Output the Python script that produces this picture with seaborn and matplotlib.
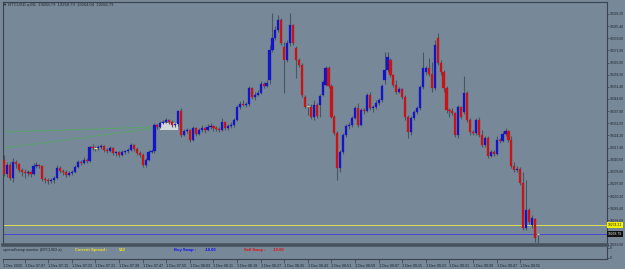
import matplotlib
matplotlib.use("Agg")
import matplotlib.pyplot as plt
import seaborn as sns
import pandas as pd
import numpy as np
from matplotlib.patches import Rectangle
from matplotlib.transforms import blended_transform_factory

# ---------------- data ----------------
symbol = "BTCUSD.a,M1"
title_ohlc = ["19268.79", "19268.79", "19264.04", "19268.79"]

opens = [19310.4, 19302.6, 19307.6, 19300.3, 19309.3, 19308.2, 19304.8, 19303.7, 19303.1, 19303.7,
         19302.6, 19307.0, 19307.6, 19307.0, 19299.8, 19299.2, 19298.6, 19299.2, 19300.3, 19305.9,
         19304.2, 19303.7, 19302.0, 19303.1, 19303.7, 19306.5, 19309.3, 19308.7, 19310.4, 19309.8,
         19317.7, 19317.1, 19317.1, 19317.7, 19318.2, 19316.0, 19315.4, 19317.1, 19314.3, 19314.9,
         19313.2, 19314.9, 19315.4, 19316.0, 19318.8, 19316.6, 19314.3, 19313.2, 19307.6, 19310.4,
         19314.9, 19315.4, 19330.0, 19328.9, 19331.1, 19331.7, 19332.8, 19331.7, 19330.0, 19330.6,
         19337.8, 19324.4, 19326.6, 19327.2, 19321.6, 19328.3, 19324.9, 19327.2, 19328.3, 19327.2,
         19328.9, 19329.4, 19328.3, 19327.8, 19327.2, 19331.7, 19328.3, 19329.4, 19330.0, 19332.8,
         19340.1, 19341.8, 19341.2, 19341.8, 19350.7, 19345.7, 19346.8, 19347.9, 19353.0, 19351.8,
         19355.2, 19372.0, 19378.7, 19383.2, 19388.8, 19373.7, 19366.4, 19375.9, 19386.0, 19373.1,
         19366.4, 19363.6, 19345.7, 19340.6, 19340.1, 19334.5, 19341.2, 19341.2, 19346.8, 19352.4,
         19361.9, 19351.8, 19334.5, 19325.5, 19305.9, 19314.9, 19324.4, 19329.4, 19330.0, 19333.9,
         19339.5, 19330.0, 19338.4, 19337.8, 19346.8, 19339.5, 19340.1, 19342.3, 19344.0, 19355.2,
         19360.8, 19366.4, 19358.0, 19352.4, 19348.5, 19350.2, 19345.7, 19334.5, 19326.1, 19333.9,
         19337.3, 19339.5, 19351.3, 19359.7, 19361.9, 19358.6, 19350.7, 19378.7, 19364.7, 19359.7,
         19350.7, 19338.4, 19337.8, 19336.7, 19324.4, 19340.1, 19337.3, 19347.9, 19332.8, 19326.1,
         19325.5, 19332.8, 19324.4, 19318.8, 19322.7, 19312.6, 19314.9, 19313.8, 19321.6, 19321.0,
         19324.9, 19326.6, 19321.6, 19307.0, 19304.8, 19305.4, 19297.5, 19272.3, 19282.4, 19274.0,
         19277.4, 19268.79]

highs = [19313.2, 19309.3, 19309.3, 19311.5, 19310.4, 19308.7, 19305.9, 19305.4, 19304.8, 19304.2,
         19308.7, 19309.3, 19308.2, 19307.6, 19300.9, 19300.3, 19300.3, 19301.4, 19307.6, 19307.0,
         19305.4, 19304.8, 19304.2, 19304.8, 19307.6, 19310.4, 19310.4, 19312.1, 19311.5, 19318.2,
         19319.4, 19318.2, 19318.8, 19319.4, 19318.8, 19317.1, 19318.2, 19317.7, 19315.4, 19315.4,
         19316.0, 19316.0, 19317.1, 19319.9, 19319.4, 19317.7, 19315.4, 19314.3, 19311.5, 19316.0,
         19316.6, 19331.1, 19330.6, 19332.2, 19332.8, 19333.9, 19333.4, 19332.8, 19331.1, 19338.4,
         19339.5, 19327.8, 19328.3, 19327.8, 19329.4, 19328.9, 19328.3, 19330.0, 19328.9, 19330.6,
         19331.1, 19330.0, 19329.4, 19328.9, 19333.9, 19332.2, 19330.6, 19331.7, 19333.9, 19341.2,
         19343.4, 19344.0, 19342.9, 19351.8, 19351.3, 19348.5, 19349.6, 19354.6, 19354.1, 19355.2,
         19374.8, 19392.7, 19385.4, 19391.6, 19389.9, 19376.5, 19377.6, 19392.7, 19386.6, 19374.2,
         19367.5, 19364.7, 19346.8, 19341.8, 19341.8, 19344.0, 19342.3, 19347.4, 19355.2, 19363.0,
         19363.0, 19353.0, 19335.6, 19326.6, 19316.0, 19325.5, 19330.6, 19331.7, 19335.0, 19340.6,
         19342.3, 19339.5, 19339.5, 19347.9, 19348.5, 19341.2, 19344.0, 19345.1, 19353.0, 19370.9,
         19370.9, 19367.5, 19358.6, 19355.2, 19351.3, 19350.7, 19346.8, 19335.6, 19335.0, 19338.4,
         19340.6, 19352.4, 19370.9, 19363.0, 19367.5, 19365.3, 19377.6, 19381.5, 19366.4, 19360.8,
         19351.8, 19339.5, 19339.5, 19337.3, 19341.2, 19340.6, 19357.4, 19349.0, 19333.9, 19327.2,
         19333.9, 19334.5, 19327.2, 19323.8, 19323.8, 19316.0, 19316.0, 19323.8, 19322.7, 19326.6,
         19328.3, 19327.2, 19323.8, 19309.3, 19307.0, 19306.5, 19303.7, 19299.2, 19283.5, 19279.6,
         19277.9, 19268.79]

lows = [19301.4, 19300.9, 19299.2, 19298.1, 19305.9, 19303.7, 19301.4, 19300.3, 19301.4, 19300.9,
        19302.0, 19305.9, 19305.9, 19298.6, 19297.5, 19297.0, 19297.5, 19297.5, 19299.8, 19303.1,
        19302.0, 19300.9, 19301.4, 19302.0, 19303.1, 19305.9, 19307.6, 19308.2, 19308.7, 19309.3,
        19316.0, 19315.4, 19316.0, 19316.6, 19314.9, 19314.3, 19314.9, 19313.2, 19312.6, 19312.1,
        19312.6, 19313.8, 19314.3, 19315.4, 19315.4, 19313.2, 19312.1, 19306.5, 19306.5, 19309.8,
        19314.3, 19314.3, 19327.8, 19328.3, 19330.6, 19331.1, 19330.6, 19328.9, 19328.9, 19329.4,
        19323.3, 19323.8, 19325.5, 19320.5, 19321.0, 19323.8, 19324.4, 19326.1, 19325.5, 19326.6,
        19327.8, 19326.6, 19326.6, 19326.1, 19326.6, 19327.2, 19327.2, 19328.3, 19328.9, 19332.2,
        19339.0, 19340.6, 19340.1, 19340.6, 19344.6, 19344.0, 19346.2, 19347.4, 19350.7, 19351.3,
        19353.0, 19370.9, 19377.6, 19382.1, 19374.8, 19347.9, 19365.3, 19374.2, 19374.8, 19356.3,
        19362.5, 19345.7, 19339.5, 19335.6, 19333.4, 19332.8, 19333.9, 19334.5, 19346.2, 19351.8,
        19350.7, 19333.9, 19324.4, 19299.2, 19303.7, 19313.8, 19323.3, 19327.8, 19328.9, 19333.4,
        19328.9, 19329.4, 19336.2, 19337.3, 19338.4, 19337.3, 19339.0, 19341.2, 19342.9, 19353.0,
        19359.7, 19356.9, 19351.3, 19347.4, 19347.9, 19344.6, 19332.8, 19322.7, 19324.4, 19332.8,
        19336.2, 19338.4, 19350.2, 19358.0, 19357.4, 19348.5, 19349.6, 19363.6, 19358.0, 19348.5,
        19336.7, 19334.5, 19335.6, 19323.3, 19322.7, 19333.4, 19336.2, 19331.7, 19324.4, 19324.4,
        19324.4, 19323.3, 19317.7, 19317.7, 19311.5, 19312.1, 19312.6, 19313.2, 19319.9, 19320.5,
        19323.8, 19320.5, 19305.9, 19303.7, 19303.7, 19296.4, 19271.2, 19271.2, 19274.6, 19272.3,
        19264.5, 19264.04]

closes = [19302.6, 19307.6, 19300.3, 19309.3, 19308.2, 19304.8, 19303.7, 19303.1, 19303.7, 19302.6,
          19307.0, 19307.6, 19307.0, 19299.8, 19299.2, 19298.6, 19299.2, 19300.3, 19305.9, 19304.2,
          19303.7, 19302.0, 19303.1, 19303.7, 19306.5, 19309.3, 19308.7, 19310.4, 19309.8, 19317.7,
          19317.1, 19317.1, 19317.7, 19318.2, 19316.0, 19315.4, 19317.1, 19314.3, 19314.9, 19313.2,
          19314.9, 19315.4, 19316.0, 19318.8, 19316.6, 19314.3, 19313.2, 19307.6, 19310.4, 19314.9,
          19315.4, 19330.0, 19328.9, 19331.1, 19331.7, 19332.8, 19331.7, 19330.0, 19330.6, 19337.8,
          19324.4, 19326.6, 19327.2, 19321.6, 19328.3, 19324.9, 19327.2, 19328.3, 19327.2, 19328.9,
          19329.4, 19328.3, 19327.8, 19327.2, 19331.7, 19328.3, 19329.4, 19330.0, 19332.8, 19340.1,
          19341.8, 19341.2, 19341.8, 19350.7, 19345.7, 19346.8, 19347.9, 19353.0, 19351.8, 19353.5,
          19372.0, 19378.7, 19383.2, 19388.8, 19375.9, 19366.4, 19375.9, 19386.0, 19375.9, 19366.4,
          19363.6, 19346.8, 19340.1, 19340.6, 19334.5, 19341.2, 19335.0, 19346.2, 19354.1, 19361.9,
          19351.8, 19334.5, 19325.5, 19305.9, 19314.9, 19324.4, 19329.4, 19330.0, 19333.9, 19339.5,
          19330.0, 19338.4, 19337.8, 19346.8, 19339.5, 19340.1, 19342.3, 19344.0, 19351.8, 19360.8,
          19368.1, 19358.0, 19352.4, 19348.5, 19350.2, 19345.7, 19334.5, 19326.1, 19333.9, 19337.3,
          19339.5, 19351.3, 19361.9, 19361.9, 19358.6, 19350.7, 19374.8, 19364.7, 19359.7, 19350.7,
          19338.4, 19337.8, 19336.7, 19324.4, 19340.1, 19334.5, 19347.9, 19332.8, 19326.1, 19325.5,
          19332.8, 19324.4, 19318.8, 19322.7, 19312.6, 19314.9, 19313.8, 19321.6, 19321.0, 19324.9,
          19326.6, 19321.6, 19307.0, 19304.8, 19305.4, 19297.5, 19272.3, 19282.4, 19275.7, 19277.9,
          19266.7, 19268.79]

price_ticks = [19392.20, 19385.40, 19378.60, 19371.80, 19365.00, 19358.20, 19351.40, 19344.60,
               19337.80, 19331.00, 19324.20, 19317.40, 19310.60, 19303.80, 19297.00, 19290.20,
               19283.40, 19276.60, 19263.00]

time_labels = ["1 Dec 2020", "1 Dec 07:07", "1 Dec 07:15", "1 Dec 07:23", "1 Dec 07:31",
               "1 Dec 07:39", "1 Dec 07:47", "1 Dec 07:55", "1 Dec 08:03", "1 Dec 08:11",
               "1 Dec 08:19", "1 Dec 08:27", "1 Dec 08:35", "1 Dec 08:43", "1 Dec 08:51",
               "1 Dec 08:59", "1 Dec 09:07", "1 Dec 09:15", "1 Dec 09:23", "1 Dec 09:31",
               "1 Dec 09:39", "1 Dec 09:47", "1 Dec 09:55"]

ask_price = 19274.21
bid_price = 19268.79
spread_points = 542
buy_swap = -10.00
sell_swap = -10.00

# trend lines (bar index, price)
trend_x = [-0.3, 52.0]
trend_upper = [19326.1, 19328.9]
trend_lower = [19317.1, 19328.3]
label_box_bars = [52.9, 59.0]
label_box_prices = [19327.2, 19331.1]

# ---------------- style ----------------
BG = "#778899"
FRAME = "#39424d"
WICK = "#4a5562"
BULL = "#1414c8"
BEAR = "#c81414"
DOJI = "#e6e07a"
FONT = ["Liberation Sans", "DejaVu Sans"]

sns.set_theme(style="ticks", rc={"axes.facecolor": BG, "figure.facecolor": BG,
                                 "savefig.facecolor": BG})
plt.rcParams["font.family"] = FONT

W, H = 625, 269
fig = plt.figure(figsize=(W / 100, H / 100), dpi=100)


def box(x0, y0, x1, y1):
    return [x0 / W, 1 - y1 / H, (x1 - x0) / W, (y1 - y0) / H]


ax = fig.add_axes(box(3, 1.5, 607, 245))
sub = fig.add_axes(box(3, 247, 607, 259))

df = pd.DataFrame({"open": opens, "high": highs, "low": lows, "close": closes})
df["bar"] = np.arange(len(df))
df["body"] = df["close"] - df["open"]
up = df[df["body"] > 0.05]
down = df[df["body"] < -0.05]
doji = df[df["body"].abs() <= 0.05]

x_lo = (3 - 4) / 2.95
x_hi = (607 - 4) / 2.95
y_lo = 19400 - 0.56 * 245
y_hi = 19400 - 0.56 * 1.5

# horizontal bid / ask lines
ax.axhline(ask_price, color="#dede5a", lw=0.7, zorder=1)
ax.axhline(bid_price, color="#4848d2", lw=0.7, zorder=1)

# trend lines
sns.lineplot(x=trend_x, y=trend_upper, ax=ax, color="#3cc03c", lw=0.7,
             dashes=False, zorder=1)
sns.lineplot(x=trend_x, y=trend_lower, ax=ax, color="#3cc03c", lw=0.7,
             dashes=False, zorder=1)
for ln in ax.get_lines()[-2:]:
    ln.set_linestyle((0, (1.5, 1.5)))

ax.add_patch(Rectangle((label_box_bars[0], label_box_prices[0]),
                       label_box_bars[1] - label_box_bars[0],
                       label_box_prices[1] - label_box_prices[0],
                       facecolor="#d4d8dc", edgecolor="none", zorder=1.5))

# candles
ax.vlines(df["bar"], df["low"], df["high"], color=WICK, lw=0.8, zorder=2)
ax.bar(up["bar"], up["body"], bottom=up["open"], width=0.72, color=BULL,
       edgecolor=BULL, linewidth=0.2, zorder=3)
ax.bar(down["bar"], down["body"], bottom=down["open"], width=0.72, color=BEAR,
       edgecolor=BEAR, linewidth=0.2, zorder=3)
ax.hlines(doji["close"], doji["bar"] - 0.4, doji["bar"] + 0.4, color=DOJI, lw=0.9, zorder=3)

ax.set_xlim(x_lo, x_hi)
ax.set_ylim(y_lo, y_hi)
ax.set_xticks([])
ax.yaxis.tick_right()
ax.set_yticks(price_ticks)
ax.set_yticklabels([f"{v:.2f}" for v in price_ticks])
ax.tick_params(axis="y", length=1.5, width=0.5, color=FRAME, pad=0.5,
               labelsize=2.4, labelcolor="#1c232b")
for side in ["left", "top", "right"]:
    ax.spines[side].set_color(FRAME)
    ax.spines[side].set_linewidth(0.8)
ax.spines["bottom"].set_color("#48525e")
ax.spines["bottom"].set_linewidth(2.6)

trans = blended_transform_factory(ax.transAxes, ax.transData)
ax.text(1.0015, ask_price, f"{ask_price:.2f}", transform=trans, fontsize=2.4, color="#1a1a1a",
        va="center", ha="left", zorder=6,
        bbox=dict(boxstyle="square,pad=0.3", fc="#f2f200", ec="none"))
ax.text(1.0015, bid_price, f"{bid_price:.2f}", transform=trans, fontsize=2.4, color="#e8e8e8",
        va="center", ha="left", zorder=6,
        bbox=dict(boxstyle="square,pad=0.3", fc="#111111", ec="none"))

# title
fig.text(3 / W, 1 - 4.5 / H, "\u25bc " + symbol + "  " + "  ".join(title_ohlc),
         fontsize=3.0, color="#1e2630", va="center", ha="left")

# sub window
sub.set_xlim(x_lo, x_hi)
sub.set_ylim(0, 1)
tick_pos = [max(-1 + 8 * k, x_lo) for k in range(len(time_labels))]
sub.set_xticks(tick_pos)
sub.set_xticklabels(time_labels)
for lab in sub.get_xticklabels():
    lab.set_ha("left")
sub.tick_params(axis="x", length=3, width=0.5, color=FRAME, pad=0.8,
                labelsize=2.7, labelcolor="#1c232b")
sub.yaxis.tick_right()
sub.set_yticks([0.92, 0.1])
sub.set_yticklabels(["0", "0"])
sub.tick_params(axis="y", length=1.5, width=0.5, color=FRAME, pad=0.5,
                labelsize=2.4, labelcolor="#1c232b")
for side in ["left", "top"]:
    sub.spines[side].set_visible(False)
for side in ["right", "bottom"]:
    sub.spines[side].set_color(FRAME)
    sub.spines[side].set_linewidth(0.8)

sy = 1 - 250 / H
fig.text(3 / W, sy, "spread/swap monitor (BTCUSD.a)", fontsize=2.8, color="#1e2630",
         va="center", ha="left")
fig.text(75 / W, sy, "Current Spread :", fontsize=3.0, color="#f0e020",
         fontweight="bold", va="center", ha="left")
fig.text(119 / W, sy, f"{spread_points}", fontsize=3.0, color="#f0e020",
         fontweight="bold", va="center", ha="left")
fig.text(174 / W, sy, "Buy Swap :", fontsize=3.0, color="#1010f0",
         fontweight="bold", va="center", ha="left")
fig.text(205 / W, sy, f"{buy_swap:.2f}", fontsize=3.0, color="#1010f0",
         fontweight="bold", va="center", ha="left")
fig.text(244 / W, sy, "Sell Swap :", fontsize=3.0, color="#e01010",
         fontweight="bold", va="center", ha="left")
fig.text(273 / W, sy, f"{sell_swap:.2f}", fontsize=3.0, color="#e01010",
         fontweight="bold", va="center", ha="left")

fig.savefig("out.png", dpi=100, facecolor=BG)
